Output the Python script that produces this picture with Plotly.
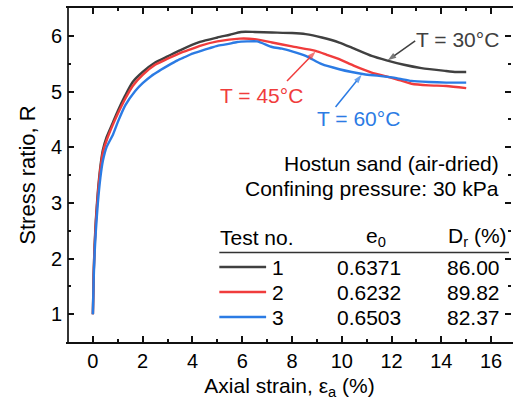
import plotly.graph_objects as go

# Axial strain (%) and stress ratio R for the three drained triaxial tests
strain_1 = [0, 0.03, 0.07, 0.12, 0.2, 0.3, 0.4, 0.55, 0.8, 1.0, 1.3, 1.6, 2.0, 2.5, 3.0, 3.5,
            4.3, 5.0, 5.5, 5.95, 6.5, 7.2, 8.0, 8.55, 9.2, 9.9, 10.5, 11.2, 11.8, 12.5, 13.2,
            14.15, 14.6, 15.0]
ratio_1 = [1.0, 1.7, 2.25, 2.7, 3.2, 3.65, 3.95, 4.18, 4.44, 4.65, 4.93, 5.17, 5.35, 5.52, 5.63,
           5.74, 5.89, 5.97, 6.02, 6.07, 6.07, 6.06, 6.05, 6.03, 5.97, 5.88, 5.77, 5.64, 5.56,
           5.48, 5.42, 5.37, 5.35, 5.35]

strain_2 = [0, 0.03, 0.07, 0.12, 0.2, 0.3, 0.4, 0.55, 0.8, 1.0, 1.3, 1.6, 2.0, 2.5, 3.0, 3.5,
            4.0, 4.3, 5.0, 5.9, 6.5, 7.2, 8.0, 8.95, 9.4, 9.9, 10.5, 11.2, 11.8, 12.2, 12.8,
            13.5, 14.2, 15.0]
ratio_2 = [1.0, 1.7, 2.2, 2.65, 3.15, 3.6, 3.9, 4.12, 4.4, 4.6, 4.87, 5.1, 5.3, 5.48, 5.59,
           5.69, 5.77, 5.82, 5.9, 5.95, 5.94, 5.88, 5.81, 5.73, 5.66, 5.58, 5.46, 5.34, 5.27,
           5.22, 5.14, 5.11, 5.1, 5.06]

strain_3 = [0, 0.03, 0.07, 0.12, 0.2, 0.3, 0.4, 0.55, 0.8, 1.0, 1.3, 1.7, 2.0, 2.35, 2.7, 3.0,
            3.4, 3.7, 4.0, 4.35, 4.7, 5.0, 5.4, 5.8, 6.2, 6.6, 7.2, 7.6, 8.0, 8.55, 9.2, 9.9,
            10.4, 10.9, 11.5, 12.2, 12.8, 13.5, 14.2, 15.0]
ratio_3 = [1.0, 1.6, 2.1, 2.5, 3.0, 3.45, 3.75, 4.0, 4.22, 4.45, 4.75, 5.01, 5.15, 5.28, 5.38,
           5.46, 5.56, 5.62, 5.68, 5.73, 5.78, 5.82, 5.85, 5.89, 5.9, 5.9, 5.8, 5.77, 5.72,
           5.64, 5.49, 5.4, 5.35, 5.31, 5.28, 5.24, 5.19, 5.17, 5.16, 5.16]

test_no = ["1", "2", "3"]
void_ratio = ["0.6371", "0.6232", "0.6503"]
rel_density = ["86.00", "89.82", "82.37"]
temps = ["T = 30°C", "T = 45°C", "T = 60°C"]
colors = ["#404040", "#f03c3c", "#2b7be4"]

x_ticks = [0, 2, 4, 6, 8, 10, 12, 14, 16]
y_ticks = [1, 2, 3, 4, 5, 6]

# leader arrows (strain, R) from each label to its curve
arrow_tails = [(12.95, 5.91), (7.8, 5.19), (9.75, 4.72)]
arrow_heads = [(11.85, 5.56), (8.95, 5.72), (10.8, 5.30)]

FONT = "Liberation Sans, Arial, sans-serif"
AXIS_COLOR = "#111"
W, H = 513, 403
L, R, T, B = 68, 513, 8, 342


def px(v):
    return (v - L) / (R - L)


def py(v):
    return (B - v) / (B - T)


fig = go.Figure()
for xs, ys, c in zip([strain_1, strain_2, strain_3], [ratio_1, ratio_2, ratio_3], colors):
    fig.add_trace(go.Scatter(x=xs, y=ys, mode="lines",
                             line=dict(color=c, width=2.4, shape="spline", smoothing=0.6),
                             showlegend=False, hoverinfo="skip"))

for (tx, ty), (hx, hy), c in zip(arrow_tails, arrow_heads, colors):
    fig.add_trace(go.Scatter(x=[tx, hx], y=[ty, hy], mode="lines+markers",
                             line=dict(color=c, width=1.5),
                             marker=dict(symbol="arrow", angleref="previous", size=[0, 9],
                                         color=c, line=dict(width=0)),
                             showlegend=False, hoverinfo="skip"))

tick_style = dict(ticks="inside", ticklen=6, tickwidth=1.6, tickcolor=AXIS_COLOR,
                  showgrid=False, zeroline=False,
                  tickfont=dict(family=FONT, size=20, color="#000"))

fig.update_layout(
    width=W, height=H,
    margin=dict(l=L, r=W - R, t=T, b=H - B),
    paper_bgcolor="white", plot_bgcolor="white",
    font=dict(family=FONT, size=21, color="#000"),
    xaxis=dict(range=[-1, 16.8], tickvals=x_ticks, mirror="ticks",
               showline=True, linewidth=1.7, linecolor=AXIS_COLOR,
               minor=dict(dtick=1, ticks="inside", ticklen=3, tickwidth=1.6, tickcolor=AXIS_COLOR),
               title=dict(text="Axial strain, ε<sub>a</sub> (%)", font=dict(size=21), standoff=7),
               **tick_style),
    # ticks on both sides; the right frame edge falls outside the page
    yaxis=dict(range=[0.5, 6.5], tickvals=y_ticks, mirror="ticks",
               showline=True, linewidth=1.7, linecolor="white",
               minor=dict(dtick=0.5, ticks="inside", ticklen=3, tickwidth=1.6, tickcolor=AXIS_COLOR),
               title=dict(text="Stress ratio, R", font=dict(size=22), standoff=9),
               **tick_style),
)

# left frame edge
fig.add_shape(type="line", xref="paper", yref="paper", x0=0, x1=0, y0=0, y1=1,
              line=dict(color=AXIS_COLOR, width=1.7), layer="above")

label_pos = [(459, 40), (262, 96), (360, 118)]
for txt, c, (lx, ly) in zip(temps, colors, label_pos):
    fig.add_annotation(x=px(lx), y=py(ly), xref="paper", yref="paper", text=txt,
                       showarrow=False, xanchor="center", yanchor="middle",
                       font=dict(family=FONT, size=21, color=c))

for txt, yy in [("Hostun sand (air-dried)", 163), ("Confining pressure: 30 kPa", 188)]:
    fig.add_annotation(x=px(503), y=py(yy), xref="paper", yref="paper", text=txt,
                       showarrow=False, xanchor="right", yanchor="middle",
                       font=dict(family=FONT, size=21, color="#000"))

# table of specimen properties
fig.add_annotation(x=px(219), y=py(237), xref="paper", yref="paper", text="Test no.",
                   showarrow=False, xanchor="left", yanchor="middle", font=dict(size=21))
fig.add_annotation(x=px(377), y=py(237), xref="paper", yref="paper", text="e<sub>0</sub>",
                   showarrow=False, xanchor="center", yanchor="middle", font=dict(size=21))
fig.add_annotation(x=px(511), y=py(237), xref="paper", yref="paper", text="D<sub>r</sub> (%)",
                   showarrow=False, xanchor="right", yanchor="middle", font=dict(size=21))
fig.add_shape(type="line", xref="paper", yref="paper", x0=px(220), x1=px(511),
              y0=py(252.5), y1=py(252.5), line=dict(color="#333", width=1.5))

row_y = [267, 292, 317]
for n, e0, dr, c, yy in zip(test_no, void_ratio, rel_density, colors, row_y):
    fig.add_shape(type="line", xref="paper", yref="paper", x0=px(220), x1=px(267),
                  y0=py(yy), y1=py(yy), line=dict(color=c, width=2.4))
    fig.add_annotation(x=px(279), y=py(yy), xref="paper", yref="paper", text=n,
                       showarrow=False, xanchor="center", yanchor="middle", font=dict(size=21))
    fig.add_annotation(x=px(370), y=py(yy), xref="paper", yref="paper", text=e0,
                       showarrow=False, xanchor="center", yanchor="middle", font=dict(size=21))
    fig.add_annotation(x=px(504), y=py(yy), xref="paper", yref="paper", text=dr,
                       showarrow=False, xanchor="right", yanchor="middle", font=dict(size=21))

fig.write_html("out.html")
